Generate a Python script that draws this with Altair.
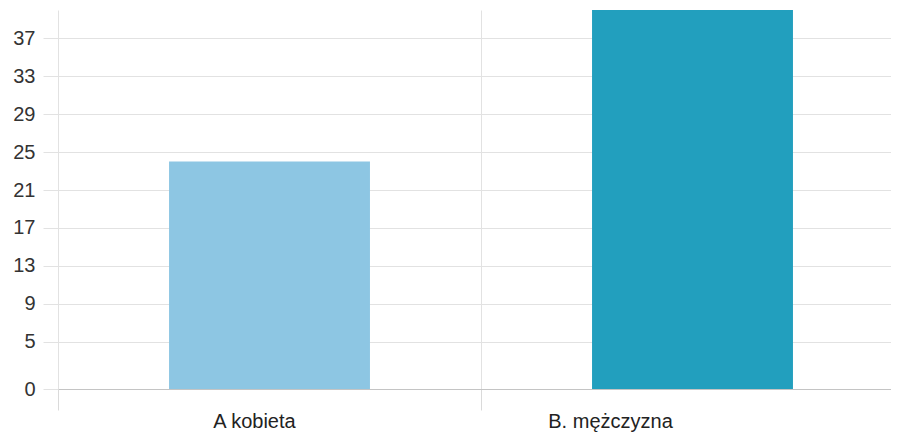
import altair as alt
import pandas as pd

categories = ["A kobieta", "B. mężczyzna"]
values = [24, 40]
colors = ["#8dc6e3", "#229fbe"]
y_ticks = [0, 5, 9, 13, 17, 21, 25, 29, 33, 37]

df = pd.DataFrame({"cat": categories, "val": values, "col": colors})

FONT = "Liberation Sans Narrow, Arial Narrow, Liberation Sans"

chart = alt.Chart(df).mark_bar(width=alt.RelativeBandSize(0.475)).encode(
    x=alt.X(
        "cat:N",
        sort=categories,
        title=None,
        scale=alt.Scale(paddingInner=0, paddingOuter=0, rangeMax=846),
        axis=alt.Axis(
            bandPosition=0,
            grid=True,
            gridColor="#e2e2e2",
            domain=True,
            domainColor="#c4c4c4",
            ticks=True,
            tickSize=21,
            tickColor="#dadada",
            labelAngle=0,
            labelFont=FONT,
            labelFontSize=20,
            labelColor="#222222",
            labelBaseline="alphabetic",
            labelPadding=17,
            labelOffset={"condition": {"test": "datum.value == 'A kobieta'", "value": -15}, "value": -82},
        ),
    ),
    y=alt.Y(
        "val:Q",
        title=None,
        scale=alt.Scale(domain=[0, 40], nice=False),
        axis=alt.Axis(
            values=y_ticks,
            grid=True,
            gridColor="#e2e2e2",
            domain=False,
            ticks=True,
            tickSize=15,
            tickColor="#e2e2e2",
            labelFont=FONT,
            labelFontSize=20,
            labelColor="#333333",
            labelPadding=8,
        ),
    ),
    color=alt.Color("col:N", scale=None, legend=None),
).properties(
    width=833,
    height=379,
    autosize=alt.AutoSizeParams(type="none"),
    padding={"left": 50, "top": 2, "right": 0, "bottom": 44},
).configure_view(stroke=None)

chart.save("out.html", embed_options={"renderer": "svg", "actions": False})
